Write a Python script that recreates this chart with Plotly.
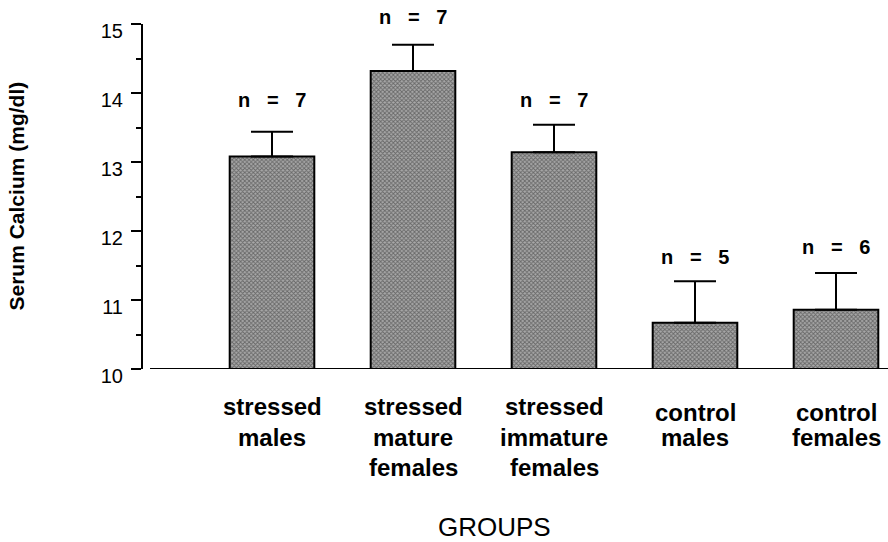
import plotly.graph_objects as go

# ---- data ----
categories = ["stressed<br>males", "stressed<br>mature<br>females", "stressed<br>immature<br>females",
              "control<br>males", "control<br>females"]
means = [13.08, 14.32, 13.14, 10.67, 10.86]
errors = [0.36, 0.38, 0.40, 0.60, 0.53]
n_labels = ["n = 7", "n = 7", "n = 7", "n = 5", "n = 6"]
y_ticks = [10, 11, 12, 13, 14, 15]

FONT = "Liberation Sans, Arial, Helvetica, sans-serif"
xs = list(range(len(categories)))

W, H = 888, 542
ML, MT, MB = 143, 24, 173

fig = go.Figure()
fig.add_trace(go.Bar(
    x=xs, y=[m - 10 for m in means], base=10, width=0.6,
    marker=dict(color="#8a8a8a", line=dict(color="black", width=2),
                pattern=dict(shape="x", size=3, solidity=0.5, fgcolor="#262626", bgcolor="#a8a8a8")),
    error_y=dict(type="data", symmetric=False, array=errors, arrayminus=[0] * len(errors),
                 color="black", thickness=2, width=21),
    hoverinfo="skip",
))

annotations = []
# n labels
n_shift = [19, 15, 12, 11, 13]
for i, (m, e, t) in enumerate(zip(means, errors, n_labels)):
    annotations.append(dict(x=i, y=m + e, xref="x", yref="y", yanchor="bottom", xanchor="center",
                            text=t.replace(" ", "\u00a0\u00a0\u00a0"), showarrow=False, yshift=n_shift[i],
                            font=dict(family=FONT, size=20, color="black", weight="bold")))

# category labels (one annotation per line); positions given as pixels below the x axis
AXIS_Y = 369
row_y = [406, 437, 467]
for i, cat in enumerate(categories):
    lines = cat.split("<br>")
    for r, line in enumerate(lines):
        y_px = row_y[r]
        if cat.startswith("control") and r == 0:
            y_px = 412
        annotations.append(dict(x=i, y=0, xref="x", yref="paper",
                                yanchor="middle", xanchor="center", text=line, showarrow=False,
                                yshift=-(y_px - AXIS_Y),
                                font=dict(family=FONT, size=24, color="black", weight="bold")))

# axis titles
annotations.append(dict(x=(494 - 143) / 745, y=0, xref="paper", yref="paper", yshift=-(527 - AXIS_Y),
                        text="GROUPS", showarrow=False, xanchor="center", yanchor="middle",
                        font=dict(family=FONT, size=26, color="black")))
annotations.append(dict(x=0, y=0.5, xref="paper", yref="paper", xshift=-(143 - 16),
                        text="Serum Calcium (mg/dl)", textangle=-90, showarrow=False,
                        xanchor="center", yanchor="middle",
                        font=dict(family=FONT, size=21, color="black", weight="bold")))

fig.update_layout(
    width=W, height=H,
    margin=dict(l=ML, r=0, t=MT, b=MB, pad=0),
    paper_bgcolor="white", plot_bgcolor="white",
    showlegend=False,
    annotations=annotations,
    shapes=[dict(type="line", xref="paper", yref="y", x0=(150 - 143) / 745, x1=1, y0=10, y1=10,
                 line=dict(color="black", width=2))],
    xaxis=dict(range=[(143 - 272) / 141, (888 - 272) / 141], showticklabels=False, showgrid=False,
               zeroline=False, showline=False, ticks=""),
    yaxis=dict(range=[10, 15], tickvals=y_ticks, ticktext=[str(v) for v in y_ticks],
               showgrid=False, zeroline=False, showline=True, linecolor="black", linewidth=2,
               ticks="outside", ticklen=10, tickwidth=2, tickcolor="black",
               ticklabelshift=7, ticklabelstandoff=4,
               tickfont=dict(family=FONT, size=20, color="black"),
               minor=dict(dtick=0.5, ticks="outside", ticklen=5, tickwidth=2, tickcolor="black",
                          showgrid=False)),
)

fig.write_html("out.html",
               config={"displayModeBar": False, "staticPlot": True},
               post_script="document.body.style.margin='0';document.body.style.overflow='hidden';")
